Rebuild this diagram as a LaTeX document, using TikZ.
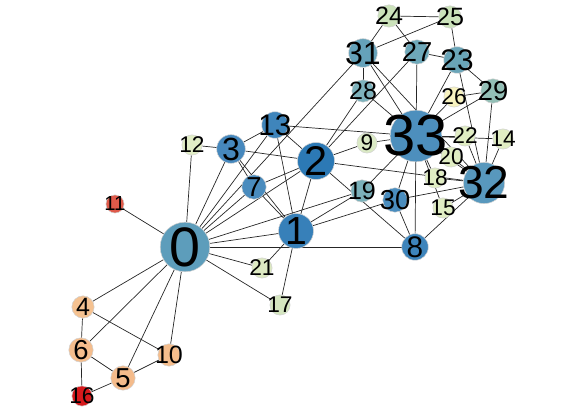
\documentclass[tikz,border=0pt]{standalone}
\usepackage{fontspec}
\setmainfont{Liberation Sans}
\usetikzlibrary{backgrounds}
% node colours
\definecolor{k0}{HTML}{5D9DBB}
\definecolor{k1}{HTML}{3780B9}
\definecolor{k2}{HTML}{2C79B5}
\definecolor{k3}{HTML}{4688BD}
\definecolor{k4}{HTML}{F5C291}
\definecolor{k5}{HTML}{F4BB8B}
\definecolor{k6}{HTML}{F4BD8D}
\definecolor{k7}{HTML}{4A8CBE}
\definecolor{k8}{HTML}{3D84BB}
\definecolor{k9}{HTML}{DBEAC5}
\definecolor{k10}{HTML}{F5BD8C}
\definecolor{k11}{HTML}{E05A4A}
\definecolor{k12}{HTML}{E2EEC6}
\definecolor{k13}{HTML}{3F85BB}
\definecolor{k14}{HTML}{E0EDC3}
\definecolor{k15}{HTML}{E0EDC3}
\definecolor{k16}{HTML}{D7191C}
\definecolor{k17}{HTML}{D5E6C0}
\definecolor{k18}{HTML}{E0EDC3}
\definecolor{k19}{HTML}{7BB1BA}
\definecolor{k20}{HTML}{E0EDC3}
\definecolor{k21}{HTML}{DDE9C2}
\definecolor{k22}{HTML}{E0EDC3}
\definecolor{k23}{HTML}{6AA5B8}
\definecolor{k24}{HTML}{CBE2BA}
\definecolor{k25}{HTML}{CBE2BA}
\definecolor{k26}{HTML}{F8F3BF}
\definecolor{k27}{HTML}{6EA8B9}
\definecolor{k28}{HTML}{7DB2BC}
\definecolor{k29}{HTML}{93BFB6}
\definecolor{k30}{HTML}{4A8DBE}
\definecolor{k31}{HTML}{65A2BA}
\definecolor{k32}{HTML}{5898BD}
\definecolor{k33}{HTML}{4D8FBD}

\begin{document}
\begin{tikzpicture}[x=1pt,y=-1pt,
  vtx/.style={circle,draw=black!18,line width=0.5pt,inner sep=0pt},
  lab/.style={inner sep=0pt,text=black},
  edge/.style={draw=black!85,line width=0.7pt}]
\useasboundingbox (0,0) rectangle (581,411);
% members: id/x/y/degree
\foreach \i/\x/\y/\d in {0/185/247/16, 1/296/231/9, 2/316/161/10, 3/231/149/6,
  4/83/307/3, 5/123/378/4, 6/81/350/4, 7/254/187/4, 8/415/247/5, 9/367/143/2,
  10/169/355/3, 11/115/204/1, 12/192/145/2, 13/275/125/5, 14/503/139/2,
  15/443/208/2, 16/82/396/2, 17/280/305/2, 18/435/178/2, 19/362/191/3,
  20/451/157/2, 21/262/268/2, 22/465/136/2, 23/457/60/5, 24/389/16/3,
  25/450/17/3, 26/454/97/2, 27/417/52/4, 28/363/91/3, 29/493/91/4,
  30/395/200/4, 31/363/53/6, 32/484/183/12, 33/416/136/17} {
  \pgfmathsetmacro\dia{2*(8+1.05*\d)}
  \pgfmathsetmacro\fs{18+2.35*\d}
  \node[vtx,fill=k\i,minimum size=\dia pt,
    label={[lab,font=\fontsize{\fs}{\fs}\selectfont]center:\i}] (n\i) at (\x,\y) {};
}
\begin{scope}[on background layer]
\foreach \a/\b in {0/1,0/2,0/3,0/4,0/5,0/6,0/7,0/8,0/10,0/11,0/12,0/13,0/17,0/19,0/21,0/31,
  1/2,1/3,1/7,1/13,1/17,1/19,1/21,1/30,
  2/3,2/7,2/8,2/9,2/13,2/27,2/28,2/32,
  3/7,3/12,3/13,4/6,4/10,5/6,5/10,5/16,6/16,
  8/30,8/32,8/33,9/33,13/33,14/32,14/33,15/32,15/33,18/32,18/33,19/33,
  20/32,20/33,22/32,22/33,23/25,23/27,23/29,23/32,23/33,
  24/25,24/27,24/31,25/31,26/29,26/33,27/33,28/31,28/33,
  29/32,29/33,30/32,30/33,31/32,31/33,32/33}
  \draw[edge] (n\a) -- (n\b);
\end{scope}
\end{tikzpicture}
\end{document}
